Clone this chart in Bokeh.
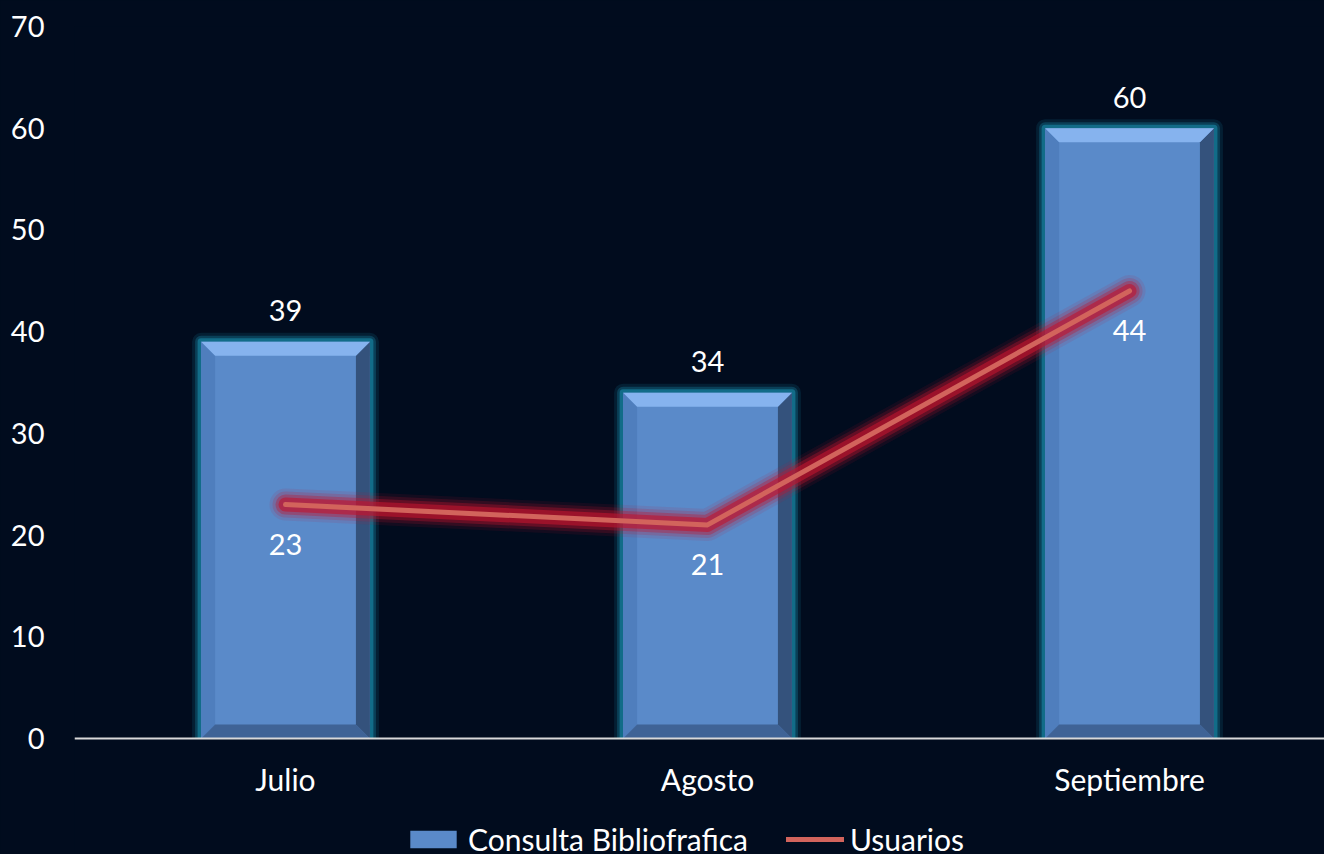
import numpy as np
from bokeh.plotting import figure
from bokeh.models import (Range1d, FixedTicker, ColumnDataSource, LabelSet,
                          Legend, LegendItem)
from bokeh.embed import file_html
from bokeh.resources import INLINE
from bokeh.core.properties import value

# ---------------- data ----------------
categories = ["Julio", "Agosto", "Septiembre"]
consulta = [39, 34, 60]          # Consulta Bibliofrafica (bars)
usuarios = [23, 21, 44]          # Usuarios (line)
y_ticks = [0, 10, 20, 30, 40, 50, 60, 70]

# ---------------- style ----------------
BG = "#010c1e"
FONT = "Lato"
FS = "30px"
FS_NUM = "29px"
FW, FH = 1250, 828
PX_PER_UNIT = 712 / 70
Y0 = -116 / PX_PER_UNIT
BAR_W = 0.40
X0, X1 = -0.5, 2.462

xs = list(range(len(categories)))

p = figure(frame_width=FW, frame_height=FH, output_backend="svg", toolbar_location=None,
           x_range=Range1d(X0, X1), y_range=Range1d(Y0, 70),
           min_border_left=74, min_border_right=0, min_border_top=26,
           min_border_bottom=0,
           background_fill_color=BG, border_fill_color=BG,
           outline_line_color=None)
p.styles = {"background-color": BG}
p.grid.visible = False

# ---- axes ----
xa = p.xaxis[0]
xa.fixed_location = 0
xa.ticker = FixedTicker(ticks=xs)
xa.major_label_overrides = {i: c for i, c in zip(xs, categories)}
xa.axis_line_color = "#d9d9d9"
xa.axis_line_width = 2
xa.major_tick_line_color = None
xa.minor_tick_line_color = None
xa.major_tick_out = 0
xa.major_tick_in = 0
xa.major_label_standoff = 22
xa.major_label_text_color = "white"
xa.major_label_text_font = FONT
xa.major_label_text_font_size = FS

ya = p.yaxis[0]
ya.ticker = FixedTicker(ticks=y_ticks)
ya.axis_line_color = None
ya.major_tick_line_color = None
ya.minor_tick_line_color = None
ya.major_tick_out = 0
ya.major_tick_in = 0
ya.major_label_standoff = 30
ya.major_label_text_color = "white"
ya.major_label_text_font = FONT
ya.major_label_text_font_size = FS_NUM

# ---- bars ----
src = ColumnDataSource(dict(x=xs, top=consulta, usu=usuarios,
                            lab_b=[str(v) for v in consulta],
                            lab_u=[str(v) for v in usuarios]))

# outline paths (left, top, right sides) for the teal glow, computed from data
glow_x, glow_y = [], []
for xc, v in zip(xs, consulta):
    x0, x1 = xc - BAR_W / 2, xc + BAR_W / 2
    glow_x.append([x0, x0, x1, x1]); glow_y.append([0, v, v, 0])
for lw, a in [(18, 0.15), (12, 0.3), (7, 0.55)]:
    p.multi_line(glow_x, glow_y, line_color="#1a8fb0", line_alpha=a,
                 line_width=lw, line_join="round", line_cap="butt")

bars = p.vbar(x="x", top="top", width=BAR_W, source=src,
              fill_color="#5a8ac9", line_color=None)

px_per_x = FW / (X1 - X0)
dx = 14 / px_per_x
dy = 14 / PX_PER_UNIT
top_x, top_y, right_x, right_y, bot_x, bot_y, left_x, left_y = [], [], [], [], [], [], [], []
for xc, v in zip(xs, consulta):
    x0, x1 = xc - BAR_W / 2, xc + BAR_W / 2
    top_x.append([x0, x1, x1 - dx, x0 + dx]); top_y.append([v, v, v - dy, v - dy])
    right_x.append([x1, x1, x1 - dx, x1 - dx]); right_y.append([v, 0, dy, v - dy])
    bot_x.append([x0, x1, x1 - dx, x0 + dx]); bot_y.append([0, 0, dy, dy])
    left_x.append([x0, x0 + dx, x0 + dx, x0]); left_y.append([v, v - dy, dy, 0])

p.patches(left_x, left_y, fill_color="#4f7ebd", line_color=None)
p.patches(bot_x, bot_y, fill_color="#3f6396", line_color=None)
p.patches(right_x, right_y, fill_color="#34527c", line_color=None)
p.patches(top_x, top_y, fill_color="#86b3ee", line_color=None)

# ---- line with glow ----
for lw, a in [(32, 0.10), (26, 0.18), (20, 0.35), (14, 0.6)]:
    p.line(xs, usuarios, line_color="#c0142f", line_alpha=a, line_width=lw,
           line_join="round", line_cap="round")
line = p.line(xs, usuarios, line_color="#d2645c", line_width=5,
              line_join="round", line_cap="round")

# ---- data labels ----
p.add_layout(LabelSet(x="x", y="top", text="lab_b", source=src, y_offset=31,
                      text_align="center", text_baseline="middle",
                      text_color="white", text_font=value(FONT),
                      text_font_size=FS_NUM))
p.add_layout(LabelSet(x="x", y="usu", text="lab_u", source=src, y_offset=-40,
                      text_align="center", text_baseline="middle",
                      text_color="white", text_font=value(FONT),
                      text_font_size=FS_NUM))

# ---- legend ----
legend = Legend(items=[LegendItem(label="Consulta Bibliofrafica", renderers=[bars]),
                       LegendItem(label="Usuarios", renderers=[line])],
                orientation="horizontal", location=(330, -3),
                background_fill_alpha=0, border_line_color=None,
                label_text_color="white", label_text_font=FONT,
                label_text_font_size=FS, glyph_width=58, glyph_height=22,
                spacing=38, label_standoff=6, padding=0, margin=0)
p.add_layout(legend, "center")

html = file_html(p, INLINE)
html = html.replace("<body>", '<body style="background:%s;">' % BG, 1)
html = html.replace("<html", '<html style="background:%s;"' % BG, 1)
open("out.html", "w").write(html)
